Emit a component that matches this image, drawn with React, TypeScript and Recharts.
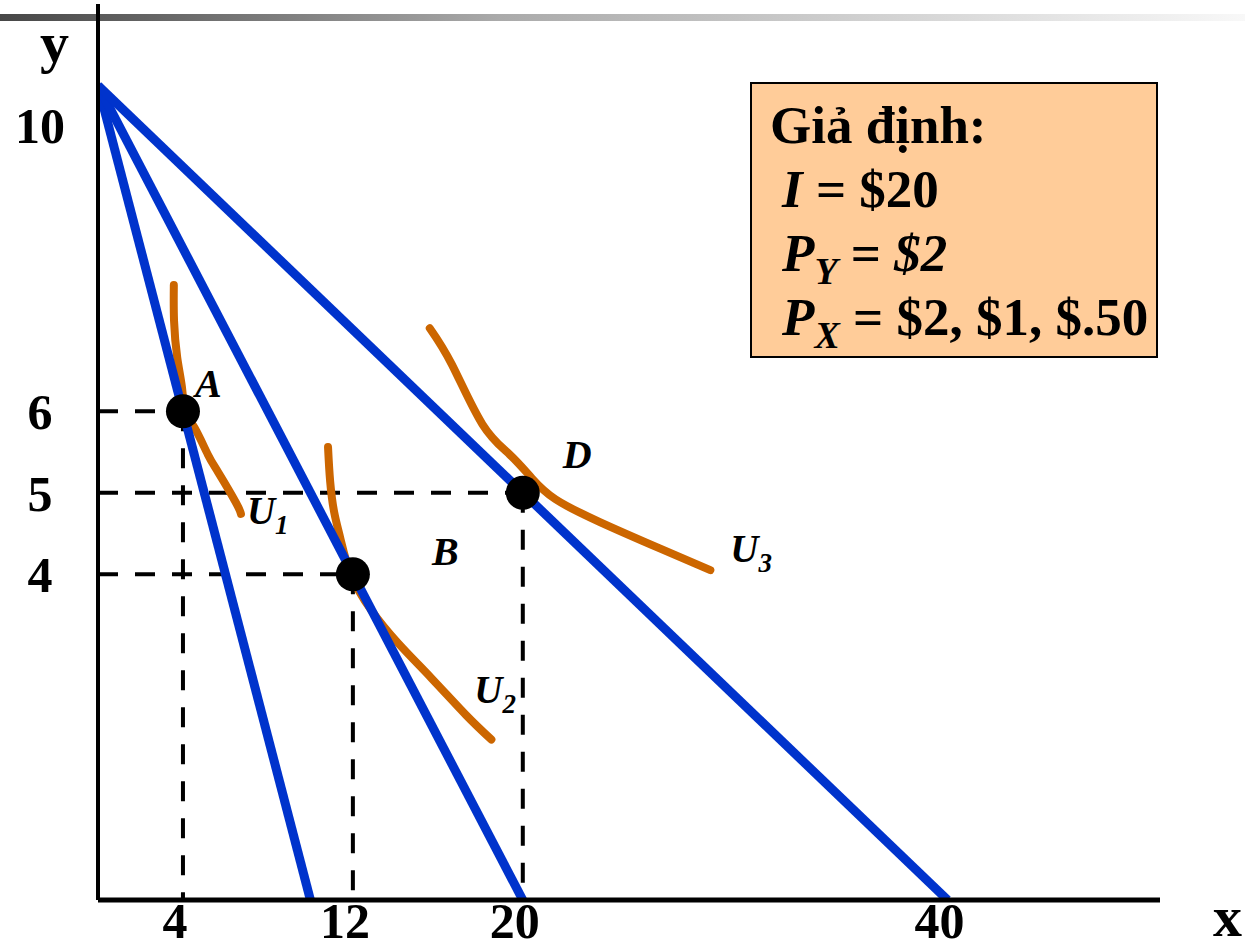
import React from "react";
import {
  ComposedChart,
  Line,
  Scatter,
  XAxis,
  YAxis,
  ReferenceLine,
} from "recharts";

type Pt = { x: number; y: number };

// axis ticks
const xTicks = [4, 12, 20, 40];
const yTicks = [4, 5, 6, 10];

// budget lines: I = $20, P_Y = $2, P_X = $2 / $1 / $.50
const budget1: Pt[] = [
  { x: 0, y: 10 },
  { x: 10, y: 0 },
];
const budget2: Pt[] = [
  { x: 0, y: 10 },
  { x: 20, y: 0 },
];
const budget3: Pt[] = [
  { x: 0, y: 10 },
  { x: 40, y: 0 },
];

// indifference curves
const u1: Pt[] = [
  { x: 3.57, y: 7.55 },
  { x: 3.58, y: 7.11 },
  { x: 3.73, y: 6.66 },
  { x: 3.95, y: 6.3 },
  { x: 4.1, y: 6.0 },
  { x: 4.54, y: 5.8 },
  { x: 5.17, y: 5.47 },
  { x: 5.66, y: 5.25 },
  { x: 6.49, y: 4.88 },
  { x: 6.73, y: 4.74 },
];
const u2: Pt[] = [
  { x: 10.83, y: 5.56 },
  { x: 10.93, y: 5.14 },
  { x: 11.12, y: 4.76 },
  { x: 11.41, y: 4.44 },
  { x: 11.9, y: 4.0 },
  { x: 12.86, y: 3.56 },
  { x: 14.14, y: 3.15 },
  { x: 15.71, y: 2.72 },
  { x: 17.33, y: 2.27 },
  { x: 18.52, y: 1.97 },
];
const u3: Pt[] = [
  { x: 15.62, y: 7.02 },
  { x: 16.67, y: 6.57 },
  { x: 18.1, y: 5.84 },
  { x: 19.38, y: 5.47 },
  { x: 20.42, y: 5.18 },
  { x: 21.54, y: 4.92 },
  { x: 23.63, y: 4.64 },
  { x: 26.42, y: 4.32 },
  { x: 28.83, y: 4.05 },
];

// optimal bundles
const optima = [
  { x: 4, y: 6, name: "A" },
  { x: 12, y: 4, name: "B" },
  { x: 20, y: 5, name: "D" },
];

const curveSubs = ["1", "2", "3"];

const BLUE = "#0033cc";
const ORANGE = "#cc6600";
const FONT = "'Liberation Serif', 'Times New Roman', serif";

// label offsets in px from the mark
const pointLabelOffset: Record<string, [number, number]> = {
  A: [12, -14],
  B: [79, -9],
  D: [40, -25],
};
const curveLabelOffset: Record<string, [number, number]> = {
  "1": [6, 10],
  "2": [-17, -37],
  "3": [20, -8],
};
const yTickNudge: Record<number, number> = { 10: 40 };

const curveEnds = [u1, u2, u3].map((c, i) => ({
  ...c[c.length - 1],
  sub: curveSubs[i],
}));

const guides = optima.flatMap((p) => [
  [
    { x: 0, y: p.y },
    { x: p.x, y: p.y },
  ],
  [
    { x: p.x, y: p.y },
    { x: p.x, y: 0 },
  ],
]);

const XTick = ({ x, y, payload }: any) => (
  <text
    x={x - 8}
    y={y + 38}
    textAnchor="middle"
    fontFamily={FONT}
    fontWeight="bold"
    fontSize={50}
    fill="#000"
  >
    {payload.value}
  </text>
);

const YTick = ({ y, payload }: any) => (
  <text
    x={40}
    y={y + 18 + (yTickNudge[payload.value] || 0)}
    textAnchor="middle"
    fontFamily={FONT}
    fontWeight="bold"
    fontSize={50}
    fill="#000"
  >
    {payload.value}
  </text>
);

const PointShape = (props: any) => {
  const { cx, cy, payload } = props;
  const [dx, dy] = pointLabelOffset[payload.name] || [0, 0];
  return (
    <g>
      <circle cx={cx} cy={cy} r={17} fill="#000" />
      <text
        x={cx + dx}
        y={cy + dy}
        fontFamily={FONT}
        fontWeight="bold"
        fontStyle="italic"
        fontSize={40}
        fill="#000"
      >
        {payload.name}
      </text>
    </g>
  );
};

const CurveLabel = (props: any) => {
  const { cx, cy, payload } = props;
  const [dx, dy] = curveLabelOffset[payload.sub] || [0, 0];
  return (
    <text
      x={cx + dx}
      y={cy + dy}
      fontFamily={FONT}
      fontWeight="bold"
      fontStyle="italic"
      fontSize={39}
      fill="#000"
    >
      U
      <tspan fontSize={27} dy={10}>
        {payload.sub}
      </tspan>
    </text>
  );
};

const lineStyle: React.CSSProperties = {
  height: 64,
  lineHeight: "64px",
  paddingLeft: 30,
  whiteSpace: "nowrap",
};
const subStyle: React.CSSProperties = {
  fontSize: 38,
  position: "relative",
  top: 13,
};

const Assumptions = () => (
  <div
    style={{
      position: "absolute",
      left: 750,
      top: 82,
      width: 408,
      height: 276,
      background: "#ffcc99",
      border: "2px solid #000",
      fontFamily: FONT,
      fontWeight: "bold",
      fontSize: 53,
      color: "#000",
      paddingTop: 9,
      boxSizing: "border-box",
    }}
  >
    <div style={{ ...lineStyle, paddingLeft: 18 }}>Giả định:</div>
    <div style={lineStyle}>
      <i>I</i> = $20
    </div>
    <div style={lineStyle}>
      <i>P</i>
      <i style={subStyle}>Y</i> = <i>$2</i>
    </div>
    <div style={lineStyle}>
      <i>P</i>
      <i style={subStyle}>X</i> = $2, $1, $.50
    </div>
  </div>
);

export default function App() {
  return (
    <div
      style={{
        position: "absolute",
        left: 0,
        top: 0,
        width: 1245,
        height: 950,
        background: "#fff",
        overflow: "hidden",
      }}
    >
      <div
        style={{
          position: "absolute",
          left: 0,
          top: 14,
          width: 1245,
          height: 7,
          background:
            "linear-gradient(to right, #474747 0%, #9a9a9a 34%, #aaaaaa 40%, #f8f8f8 100%)",
        }}
      />
      <div style={{ position: "absolute", left: 0, top: 0 }}>
        <ComposedChart
          width={1245}
          height={950}
          margin={{ top: 4, right: 85, bottom: 0, left: 0 }}
        >
          <XAxis
            type="number"
            dataKey="x"
            domain={[0, 50]}
            ticks={xTicks}
            allowDataOverflow
            height={50}
            tickSize={0}
            tickMargin={0}
            tickLine={false}
            axisLine={{ stroke: "#000", strokeWidth: 5 }}
            tick={<XTick />}
          />
          <YAxis
            type="number"
            dataKey="y"
            domain={[0, 11]}
            ticks={yTicks}
            allowDataOverflow
            width={98}
            tickSize={0}
            tickMargin={0}
            tickLine={false}
            axisLine={{ stroke: "#000", strokeWidth: 4 }}
            tick={<YTick />}
          />
          {guides.map((seg, i) => (
            <ReferenceLine
              key={`g-${i}`}
              segment={seg}
              stroke="#000"
              strokeWidth={4}
              strokeDasharray="20 17"
            />
          ))}
          {[u1, u2, u3].map((c, i) => (
            <Line
              key={`u-${i}`}
              data={c}
              dataKey="y"
              type="natural"
              stroke={ORANGE}
              strokeWidth={8}
              strokeLinecap="round"
              dot={false}
              activeDot={false}
              isAnimationActive={false}
            />
          ))}
          <Scatter
            data={optima}
            dataKey="y"
            shape={<PointShape />}
            isAnimationActive={false}
          />
          {[budget1, budget2, budget3].map((b, i) => (
            <Line
              key={`b-${i}`}
              data={b}
              dataKey="y"
              type="linear"
              stroke={BLUE}
              strokeWidth={9}
              dot={false}
              activeDot={false}
              isAnimationActive={false}
            />
          ))}
          <Scatter
            data={curveEnds}
            dataKey="y"
            shape={<CurveLabel />}
            isAnimationActive={false}
          />
        </ComposedChart>
      </div>
      <svg
        width={1245}
        height={950}
        style={{ position: "absolute", left: 0, top: 0, pointerEvents: "none" }}
      >
        <text x={40} y={62} fontFamily={FONT} fontWeight="bold" fontSize={58}>
          y
        </text>
        <text x={1213} y={936} fontFamily={FONT} fontWeight="bold" fontSize={58}>
          x
        </text>
      </svg>
      <Assumptions />
    </div>
  );
}
